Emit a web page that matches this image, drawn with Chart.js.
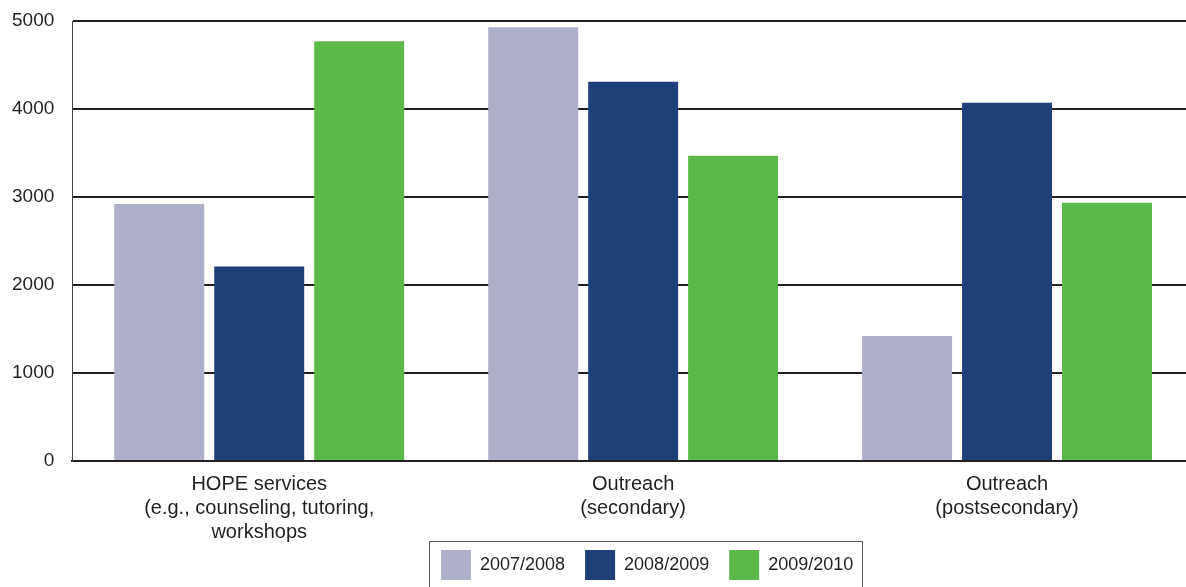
<!DOCTYPE html>
<html>
<head>
<meta charset="utf-8">
<script src="https://cdn.jsdelivr.net/npm/chart.js@4.4.1/dist/chart.umd.min.js"></script>
<style>
  html, body { margin: 0; padding: 0; background: #fff; overflow: hidden; }
  #wrap { width: 1194px; height: 587px; position: relative; }
</style>
</head>
<body>
<div id="wrap"><canvas id="grafico"></canvas></div>
<script>
// categorías y series
const categorias = [
  ['HOPE services', '(e.g., counseling, tutoring,', 'workshops'],
  ['Outreach', '(secondary)'],
  ['Outreach', '(postsecondary)']
];
const anios = ['2007/2008', '2008/2009', '2009/2010'];
const serie2007 = [2920, 4930, 1420];
const serie2008 = [2210, 4310, 4070];
const serie2009 = [4770, 3470, 2935];
const colores = ['#adafcb', '#1f3f78', '#5bb94a'];
const ticksY = [0, 1000, 2000, 3000, 4000, 5000];

const fuente = "'Liberation Sans', Arial, sans-serif";
const tinta = '#231f20';

// la leyenda se centra sobre el área del gráfico y las etiquetas del eje x no se recortan
const ajusteLayout = {
  id: 'ajusteLayout',
  afterLayout(chart) {
    const a = chart.chartArea;
    const leg = chart.legend;
    const dx = (a.left + a.right) / 2 - (leg.left + leg.right) / 2 + 14;
    leg.left += dx;
    leg.right += dx;
    chart.scales.x.bottom = chart.height;
  }
};

// marco alrededor de la leyenda
const marcoLeyenda = {
  id: 'marcoLeyenda',
  afterDraw(chart) {
    const leg = chart.legend;
    if (!leg || !leg.legendHitBoxes.length) return;
    const cajas = leg.legendHitBoxes;
    const primera = cajas[0], ultima = cajas[cajas.length - 1];
    const x0 = Math.round(primera.left - 12);
    const x1 = Math.round(ultima.left + ultima.width + 9);
    const y0 = Math.round(primera.top - 9);
    const ctx = chart.ctx;
    ctx.save();
    ctx.strokeStyle = '#555';
    ctx.lineWidth = 1;
    ctx.strokeRect(x0 + 0.5, y0 + 0.5, x1 - x0, 60);
    ctx.restore();
  }
};

const datasets = [serie2007, serie2008, serie2009].map((d, i) => ({
  label: anios[i],
  data: d,
  backgroundColor: colores[i],
  borderWidth: 0,
  barPercentage: 0.9,
  categoryPercentage: 0.802
}));

new Chart(document.getElementById('grafico'), {
  type: 'bar',
  data: { labels: categorias, datasets: datasets },
  plugins: [ajusteLayout, marcoLeyenda],
  options: {
    responsive: true,
    maintainAspectRatio: false,
    animation: false,
    layout: { padding: { top: 0, left: -6, right: 0, bottom: -3 } },
    plugins: {
      tooltip: { enabled: false },
      legend: {
        position: 'bottom',
        labels: {
          boxWidth: 30,
          boxHeight: 30,
          padding: 20,
          color: tinta,
          font: { family: fuente, size: 18 }
        }
      }
    },
    scales: {
      x: {
        grid: { display: false, drawTicks: false },
        border: { display: true, color: tinta, width: 2 },
        ticks: {
          color: tinta,
          padding: 11,
          maxRotation: 0,
          autoSkip: false,
          font: { family: fuente, size: 20, lineHeight: 1.2 }
        },
        afterFit: (scale) => { scale.height = 69; }
      },
      y: {
        min: 0,
        max: 5000,
        afterBuildTicks: (scale) => { scale.ticks = ticksY.map(v => ({ value: v })); },
        afterFit: (scale) => { scale.paddingTop = 21; },
        grid: { color: tinta, lineWidth: 2, drawTicks: false },
        border: { display: true, color: '#444', width: 1 },
        ticks: {
          color: tinta,
          padding: 18,
          font: { family: fuente, size: 19 },
          callback: (v) => String(v)
        }
      }
    }
  }
});
</script>
</body>
</html>
